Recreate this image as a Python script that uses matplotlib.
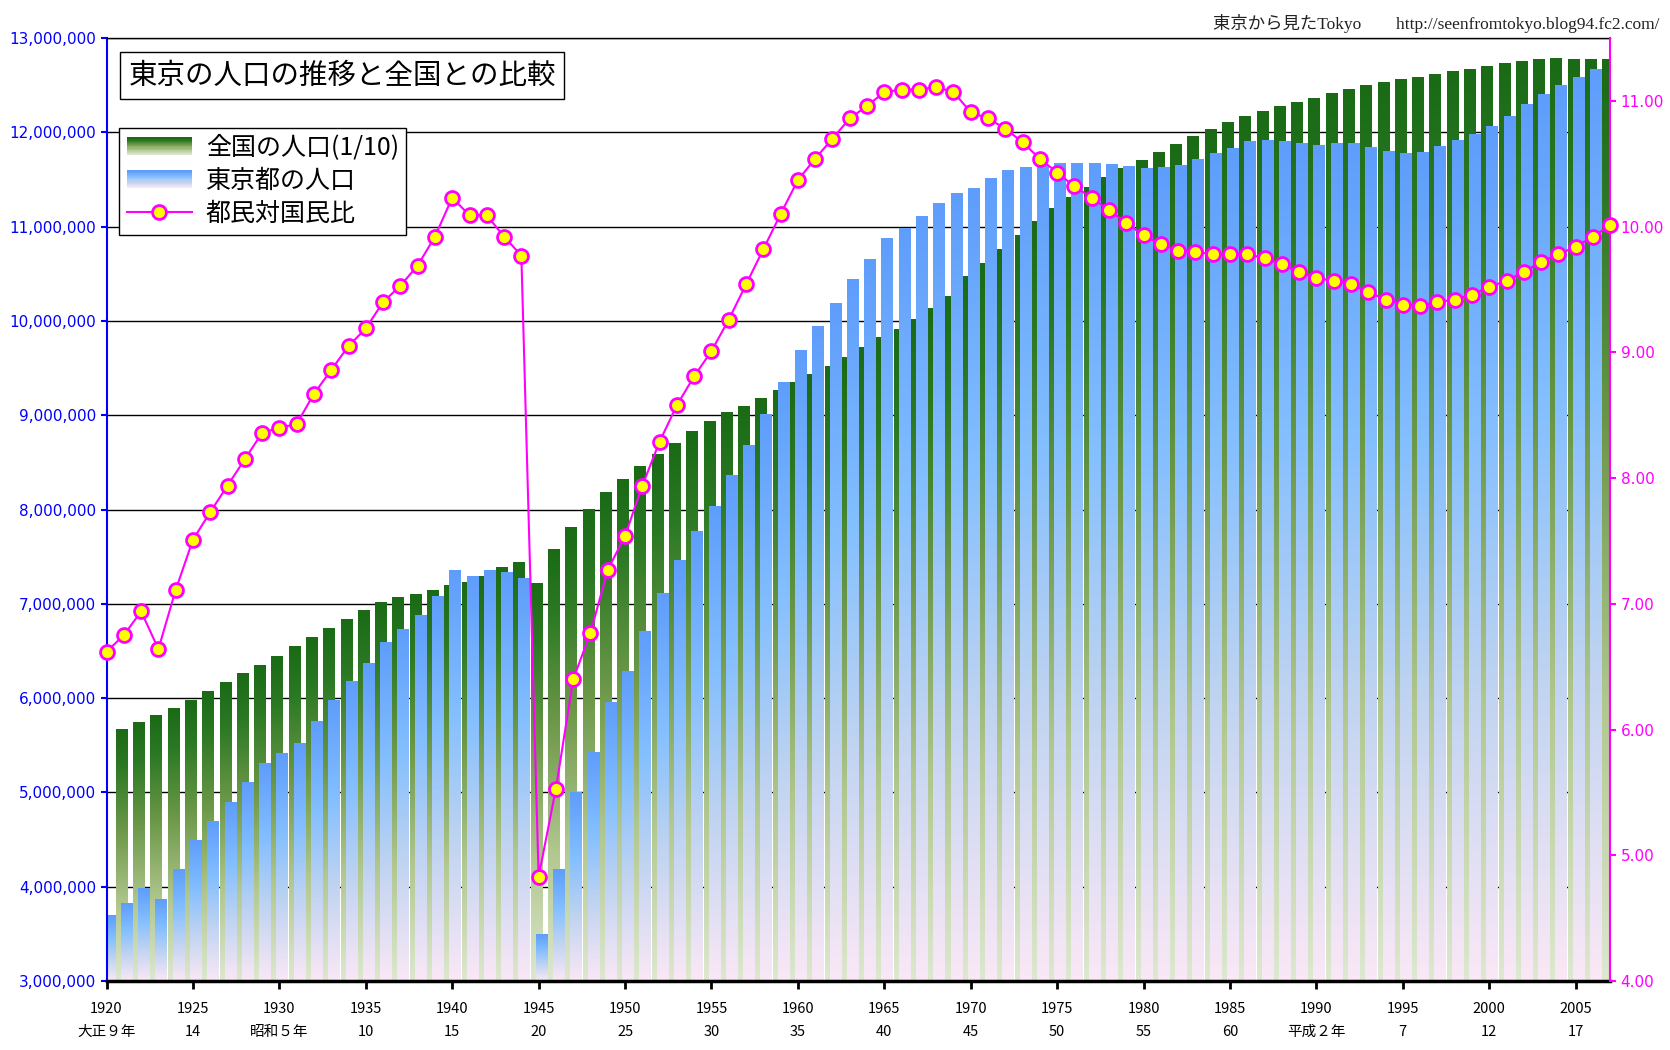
import numpy as np
import matplotlib
matplotlib.use("Agg")
import matplotlib.pyplot as plt
from matplotlib.colors import LinearSegmentedColormap
from matplotlib.legend_handler import HandlerBase
from matplotlib.patches import Rectangle
from matplotlib.ticker import FuncFormatter

plt.rcParams["font.family"] = ["DejaVu Sans", "Noto Sans CJK JP"]

# --- data (millions / percent) ---
years = list(range(1920, 2008))

national_tenth = [
    5.596, 5.667, 5.739, 5.812, 5.888, 5.974, 6.074, 6.166, 6.260, 6.346,
    6.445, 6.546, 6.643, 6.743, 6.831, 6.925, 7.011, 7.063, 7.101, 7.138,
    7.193, 7.222, 7.288, 7.390, 7.443, 7.215, 7.575, 7.810, 8.000, 8.177,
    8.320, 8.454, 8.581, 8.698, 8.824, 8.928, 9.026, 9.093, 9.177, 9.264,
    9.342, 9.429, 9.518, 9.616, 9.718, 9.828, 9.904, 10.020, 10.133, 10.254,
    10.467, 10.610, 10.760, 10.910, 11.057, 11.194, 11.309, 11.417, 11.519, 11.616,
    11.706, 11.790, 11.873, 11.954, 12.031, 12.105, 12.166, 12.224, 12.275, 12.321,
    12.361, 12.410, 12.457, 12.494, 12.527, 12.557, 12.586, 12.616, 12.647, 12.667,
    12.693, 12.732, 12.749, 12.769, 12.779, 12.777, 12.777, 12.777,
]

tokyo_pop = [
    3.699, 3.820, 3.985, 3.859, 4.185, 4.485, 4.695, 4.897, 5.100, 5.305,
    5.409, 5.515, 5.755, 5.975, 6.180, 6.370, 6.590, 6.730, 6.880, 7.082,
    7.355, 7.285, 7.355, 7.330, 7.272, 3.488, 4.183, 5.000, 5.418, 5.950,
    6.278, 6.710, 7.110, 7.460, 7.770, 8.037, 8.360, 8.675, 9.010, 9.350,
    9.684, 9.940, 10.180, 10.440, 10.650, 10.869, 10.980, 11.110, 11.250, 11.350,
    11.408, 11.510, 11.600, 11.630, 11.650, 11.674, 11.670, 11.670, 11.660, 11.640,
    11.618, 11.630, 11.650, 11.710, 11.770, 11.829, 11.900, 11.910, 11.900, 11.880,
    11.856, 11.880, 11.880, 11.840, 11.800, 11.774, 11.790, 11.850, 11.910, 11.980,
    12.064, 12.170, 12.290, 12.400, 12.500, 12.577, 12.670, 12.760,
]

tokyo_ratio = [
    6.62, 6.75, 6.94, 6.64, 7.11, 7.51, 7.73, 7.94, 8.15, 8.36,
    8.40, 8.43, 8.67, 8.86, 9.05, 9.19, 9.40, 9.53, 9.69, 9.92,
    10.23, 10.09, 10.09, 9.92, 9.77, 4.83, 5.53, 6.40, 6.77, 7.27,
    7.54, 7.94, 8.29, 8.58, 8.81, 9.01, 9.26, 9.54, 9.82, 10.10,
    10.37, 10.54, 10.70, 10.86, 10.96, 11.07, 11.09, 11.09, 11.11, 11.07,
    10.91, 10.86, 10.78, 10.67, 10.54, 10.43, 10.32, 10.23, 10.13, 10.03,
    9.93, 9.86, 9.81, 9.80, 9.78, 9.78, 9.78, 9.75, 9.70, 9.64,
    9.59, 9.57, 9.54, 9.48, 9.42, 9.38, 9.37, 9.40, 9.42, 9.46,
    9.52, 9.57, 9.64, 9.72, 9.78, 9.84, 9.92, 10.01,
]

tick_years = list(range(1920, 2006, 5))
era_labels = ["大正９年", "14", "昭和５年", "10", "15", "20", "25", "30", "35",
              "40", "45", "50", "55", "60", "平成２年", "7", "12", "17"]

green_cmap = LinearSegmentedColormap.from_list(
    "g", [(0, "#dde8d0"), (0.3, "#b1c78f"), (0.6, "#6c9848"), (0.85, "#2c7924"), (1, "#1a6a16")])
blue_cmap = LinearSegmentedColormap.from_list(
    "b", [(0, "#fae8f6"), (0.35, "#bed3f1"), (0.65, "#84bffe"), (1, "#5e9dfb")])

grad = np.linspace(0, 1, 256).reshape(-1, 1)
base = 3e6
bar_w = 0.66
x_min, x_max = 1920, 2007

fig = plt.figure(figsize=(16.7, 10.5), dpi=100, facecolor="white")
ax = fig.add_axes([0.0638, 0.0657, 0.9004, 0.8981])

# bars whose centre falls outside the category range are not drawn (as in Excel)
for y, g, t in zip(years, national_tenth, tokyo_pop):
    gx = y - 0.13
    if x_min <= gx <= x_max:
        ax.imshow(grad, extent=[gx - bar_w / 2, gx + bar_w / 2, base, g * 1e6],
                  cmap=green_cmap, origin="lower", aspect="auto", zorder=1,
                  interpolation="bilinear")
    bx = y + 0.16
    if x_min <= bx <= x_max:
        ax.imshow(grad, extent=[bx - bar_w / 2, bx + bar_w / 2, base, t * 1e6],
                  cmap=blue_cmap, origin="lower", aspect="auto", zorder=1.2,
                  interpolation="bilinear")

ax.set_xlim(x_min, x_max)
ax.set_ylim(3e6, 13e6)
ax.set_yticks(np.arange(3e6, 13.1e6, 1e6))
ax.yaxis.set_major_formatter(FuncFormatter(lambda v, p: f"{int(v):,}"))
ax.grid(axis="y", color="black", linewidth=1)
ax.set_axisbelow(True)

ax.set_xticks(tick_years)
ax.set_xticklabels([f"{y}\n{e}" for y, e in zip(tick_years, era_labels)],
                   family=["Noto Sans CJK JP"], fontsize=10.5, linespacing=1.85)
ax.tick_params(axis="x", direction="out", length=6, width=2, pad=9, colors="black")
ax.tick_params(axis="y", direction="out", length=4, width=1.5, colors="#0000ff",
               labelsize=11, labelcolor="#0000ff")
ax.spines["left"].set_color("#0000ff")
ax.spines["left"].set_linewidth(1.5)
ax.spines["bottom"].set_linewidth(2.5)
ax.spines["top"].set_linewidth(1)
ax.spines["right"].set_visible(False)
for sp in ax.spines.values():
    sp.set_zorder(3)

ax2 = ax.twinx()
ax2.set_ylim(4, 11.5)
line, = ax2.plot(years, tokyo_ratio, color="#ff00ff", linewidth=1.5,
                 marker="o", markersize=10, markerfacecolor="#ffff00",
                 markeredgecolor="#ff00ff", markeredgewidth=2, clip_on=False, zorder=5)
ax2.set_yticks(np.arange(4, 11.01, 1))
ax2.yaxis.set_major_formatter(FuncFormatter(lambda v, p: f"{v:.2f}"))
ax2.tick_params(axis="y", direction="out", length=4, width=1.5, colors="#ff00ff",
                labelsize=11, labelcolor="#ff00ff")
ax2.spines["right"].set_color("#ff00ff")
ax2.spines["right"].set_linewidth(1.5)
for s in ["left", "top", "bottom"]:
    ax2.spines[s].set_visible(False)


class GradientHandler(HandlerBase):
    def __init__(self, cmap):
        super().__init__()
        self.cmap = cmap

    def create_artists(self, legend, orig_handle, xdescent, ydescent, width, height,
                       fontsize, trans):
        n = 16
        arts = []
        for i in range(n):
            r = Rectangle((-xdescent, -ydescent + height * i / n), width, height / n + 0.3,
                          facecolor=self.cmap(i / (n - 1)), edgecolor="none", transform=trans)
            arts.append(r)
        return arts


h_green = Rectangle((0, 0), 1, 1)
h_blue = Rectangle((0, 0), 1, 1)
leg = ax2.legend([h_green, h_blue, line], ["全国の人口(1/10)", "東京都の人口", "都民対国民比"],
                 handler_map={h_green: GradientHandler(green_cmap),
                              h_blue: GradientHandler(blue_cmap)},
                 loc="upper left", bbox_to_anchor=(0.0086, 0.905), fancybox=False,
                 edgecolor="black", framealpha=1, borderpad=0.3, labelspacing=0.28,
                 handlelength=2.6, handleheight=0.7, handletextpad=0.55, borderaxespad=0,
                 prop={"family": ["Noto Sans CJK JP"], "size": 18})
leg.get_frame().set_linewidth(1)
leg.set_zorder(10)

ax2.text(0.0145, 0.976, "東京の人口の推移と全国との比較", transform=ax2.transAxes,
         ha="left", va="top", fontsize=20.5, family=["Noto Sans CJK JP"], zorder=10,
         bbox=dict(boxstyle="square,pad=0.3", facecolor="white", edgecolor="black", linewidth=1))

fig.text(0.994, 0.978, "東京から見たTokyo　　http://seenfromtokyo.blog94.fc2.com/",
         ha="right", va="center", fontsize=12.5, color="#222222",
         family=["Liberation Serif", "Noto Sans CJK JP"])

fig.savefig("out.png", dpi=100, facecolor="white")
